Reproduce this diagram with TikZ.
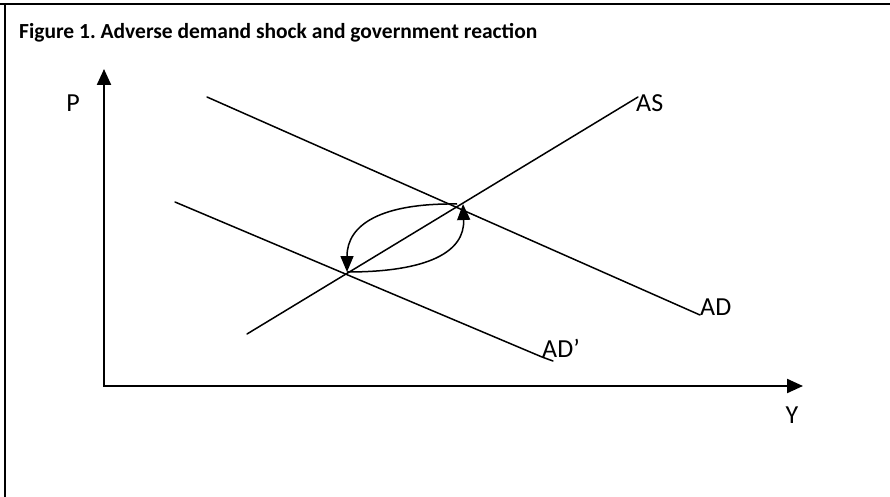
\documentclass[tikz,border=0pt]{standalone}
\usepackage{fontspec}
\setmainfont{Carlito}
\usepackage{tikz}
\usetikzlibrary{positioning,arrows.meta}
\frenchspacing

\begin{document}
\begin{tikzpicture}[
  x=1pt, y=-1pt,
  axis/.style={line width=2.2pt, -{Triangle[length=16pt, width=14pt]}},
  curve/.style={line width=1.5pt, line cap=round},
  shiftarrow/.style={line width=1.5pt, -{Triangle[length=16pt, width=13pt]}},
  lbl/.style={inner sep=0pt, font=\fontsize{26}{30}\selectfont}
]
  \useasboundingbox (0,0) rectangle (890,497);
  \draw[line width=2pt] (0,4) -- (890,4);
  \draw[line width=2pt] (5,4) -- (5,497);
  \node[anchor=base west, inner sep=0pt, font=\bfseries\fontsize{21.5}{25}\selectfont] (title) at (19,39) {Figure 1. Adverse demand shock and government reaction};

  \coordinate (origin) at (104,386);
  \coordinate (ptop) at (104,69);
  \coordinate (yend) at (803,386);
  \draw[axis] (origin) -- (ptop);
  \draw[axis] ([xshift=-1pt]origin) -- (yend);
  \node[lbl, anchor=base] (p) at (73,112) {P};
  \node[lbl, anchor=base] (y) at (792,423) {Y};

  \node[lbl, anchor=base west] (as) at (636,112) {AS};
  \node[lbl, anchor=base west] (ad) at (700,315) {AD};
  \node[lbl, anchor=base west] (adp) at (542,357) {AD’};

  \coordinate (as0) at (247,334);
  \coordinate (ad0) at (207,97);
  \coordinate (adp0) at (175,202);
  \draw[curve] (as0) -- ([shift={(2,-15)}]as.base west);
  \draw[curve] (ad0) -- (ad.base west);
  \draw[curve] (adp0) -- (adp.base west) -- ++(11,4);

  \coordinate (e0) at (347,272);
  \coordinate (e1) at (457,204);
  \draw[shiftarrow] (e1) .. controls (382,203) and (347,224) .. (e0);
  \draw[shiftarrow] (e0) .. controls (428,272) and (465,252) .. ([xshift=6pt]e1);
\end{tikzpicture}
\end{document}
